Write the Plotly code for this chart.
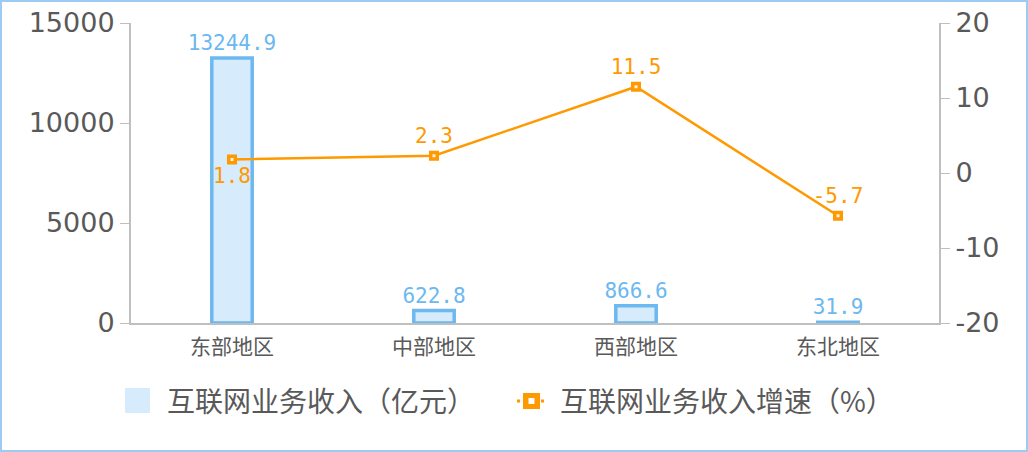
import plotly.graph_objects as go

regions = ["东部地区", "中部地区", "西部地区", "东北地区"]
revenue = [13244.9, 622.8, 866.6, 31.9]
growth = [1.8, 2.3, 11.5, -5.7]
growth_pos = ["bottom center", "top center", "top center", "top center"]
left_ticks = [0, 5000, 10000, 15000]
left_labels = ["0", "5000", "10000", "15000"]
right_ticks = [-20, -10, 0, 10, 20]
right_labels = ["-20", "-10", "0", "10", "20"]
legend_names = ["互联网业务收入（亿元）", "互联网业务收入增速（%）"]

W, H = 1028, 452
L, R, T, B = 131, 89, 23, 129
pw, ph = W - L - R, H - T - B

BLUE = "#6cb8f0"
FILL = "#d6ebfb"
ORANGE = "#ff9900"
GRAY = "#595959"
AX = "#bfbfbf"
NUMFONT = "DejaVu Sans Mono"
CJK = "Noto Sans CJK SC"


def px(x):
    return (x - L) / pw


def py(y):
    return (H - B - y) / ph


fig = go.Figure()
fig.add_trace(go.Bar(
    x=regions, y=revenue, name=legend_names[0], showlegend=False,
    marker=dict(color=FILL, line=dict(color=BLUE, width=3.5)),
    width=0.2,
    text=[f"{v:.1f}" for v in revenue], textposition="outside", constraintext="none",
    textfont=dict(color=BLUE, size=21, family=NUMFONT),
    cliponaxis=False,
))
fig.add_trace(go.Scatter(
    x=regions, y=growth, name=legend_names[1], yaxis="y2", showlegend=False,
    mode="lines+markers+text",
    line=dict(color=ORANGE, width=2.5),
    marker=dict(symbol="square", size=10, color=ORANGE, line=dict(width=0)),
    text=[f"{v:.1f}" for v in growth], textposition=growth_pos,
    textfont=dict(color=ORANGE, size=21, family=NUMFONT),
    cliponaxis=False,
))
fig.add_trace(go.Scatter(
    x=regions, y=growth, yaxis="y2", mode="markers", showlegend=False, hoverinfo="skip",
    marker=dict(symbol="square", size=3, color="#fff3e0", line=dict(width=0)),
    cliponaxis=False,
))

# manual legend (large swatches like the reference)
shapes = [
    dict(type="rect", xref="paper", yref="paper",
         x0=px(1), x1=px(W - 1), y0=py(H - 1), y1=py(1),
         line=dict(color="#9dcbf3", width=2), layer="below"),
    dict(type="rect", xref="paper", yref="paper",
         x0=px(125), x1=px(150), y0=py(413), y1=py(388),
         fillcolor=FILL, line=dict(width=0)),
    dict(type="line", xref="paper", yref="paper",
         x0=px(517), x1=px(547), y0=py(401), y1=py(401),
         line=dict(color=ORANGE, width=3, dash="dot")),
    dict(type="rect", xref="paper", yref="paper",
         x0=px(523), x1=px(540), y0=py(409), y1=py(393),
         fillcolor=ORANGE, line=dict(width=0)),
    dict(type="rect", xref="paper", yref="paper",
         x0=px(528.5), x1=px(534.5), y0=py(404), y1=py(398),
         fillcolor="white", line=dict(width=0)),
]
annotations = [
    dict(text=legend_names[0], xref="paper", yref="paper", x=px(165), y=py(400),
         xanchor="left", yanchor="middle", showarrow=False,
         font=dict(size=28, color=GRAY, family=CJK)),
    dict(text=legend_names[1], xref="paper", yref="paper", x=px(558), y=py(400),
         xanchor="left", yanchor="middle", showarrow=False,
         font=dict(size=28, color=GRAY, family=CJK)),
]

fig.update_layout(
    width=W, height=H,
    margin=dict(l=L, r=R, t=T, b=B, autoexpand=False),
    paper_bgcolor="white", plot_bgcolor="white",
    font=dict(family=CJK, color=GRAY),
    showlegend=False,
    xaxis=dict(showline=True, linecolor=AX, linewidth=2, ticks="", showgrid=False,
               automargin=False, ticklabelstandoff=4,
               tickfont=dict(size=21, color=GRAY, family=CJK)),
    yaxis=dict(range=[0, 15000], tickvals=left_ticks, ticktext=left_labels,
               showline=True, linecolor=AX, linewidth=2, automargin=False,
               ticks="outside", tickcolor=AX, ticklen=9, showgrid=False, zeroline=False,
               tickfont=dict(size=27, color=GRAY, family="DejaVu Sans")),
    yaxis2=dict(range=[-20, 20], tickvals=right_ticks, ticktext=right_labels,
                overlaying="y", side="right", automargin=False,
                showline=True, linecolor=AX, linewidth=2, ticks="outside", tickcolor=AX, ticklen=9,
                showgrid=False, zeroline=False,
                tickfont=dict(size=27, color=GRAY, family="DejaVu Sans")),
    shapes=shapes,
    annotations=annotations,
)

fig.write_html("out.html", config={"displayModeBar": False},
               post_script="document.body.style.margin='0';document.body.style.overflow='hidden';")
